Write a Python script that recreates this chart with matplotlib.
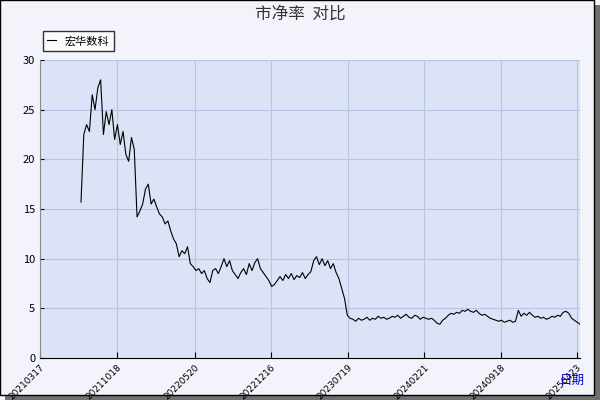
import matplotlib
matplotlib.use("Agg")
import matplotlib.pyplot as plt
import numpy as np
from matplotlib.patches import Rectangle

plt.rcParams['font.family'] = ['Noto Sans CJK SC', 'DejaVu Sans']

tick_labels = ["20210317", "20211018", "20220520", "20221216", "20230719",
               "20240221", "20240918", "20250423"]
tick_pos = [0, 77, 155, 231, 308, 384, 461, 537]   # trading-day index of each label
start_idx = 41

pb = [15.7, 22.5, 23.5, 22.8, 26.5, 25.0, 27.2, 28.0, 22.5, 24.8, 23.5, 25.0, 22.0, 23.5, 21.5, 22.8,
      20.5, 19.8, 22.2, 21.0, 14.2, 14.8, 15.5, 17.0, 17.5, 15.5, 16.0, 15.2, 14.5, 14.2, 13.5, 13.8,
      12.8, 12.0, 11.5, 10.2, 10.8, 10.5, 11.2, 9.5, 9.2, 8.8, 9.0, 8.5, 8.8, 8.0, 7.6, 8.8,
      9.0, 8.5, 9.2, 10.0, 9.2, 9.8, 8.8, 8.4, 8.0, 8.6, 9.0, 8.4, 9.5, 8.8, 9.6, 10.0,
      9.0, 8.6, 8.2, 7.8, 7.2, 7.4, 7.8, 8.2, 7.8, 8.4, 8.0, 8.5, 7.9, 8.3, 8.1, 8.6,
      8.0, 8.4, 8.7, 9.8, 10.2, 9.4, 10.0, 9.3, 9.8, 9.0, 9.5, 8.6, 8.0, 7.0, 6.0, 4.3,
      4.0, 3.9, 3.7, 4.0, 3.8, 3.9, 4.1, 3.8, 4.0, 3.9, 4.2, 4.0, 4.1, 3.9, 4.0, 4.2,
      4.1, 4.3, 4.0, 4.2, 4.4, 4.1, 4.0, 4.3, 4.2, 3.9, 4.1, 4.0, 3.9, 4.0, 3.8, 3.5,
      3.4, 3.8, 4.0, 4.3, 4.5, 4.4, 4.6, 4.5, 4.8, 4.7, 4.9, 4.7, 4.6, 4.8, 4.5, 4.3,
      4.4, 4.2, 4.0, 3.9, 3.8, 3.7, 3.8, 3.6, 3.7, 3.8, 3.6, 3.7, 4.8, 4.2, 4.5, 4.3,
      4.6, 4.3, 4.1, 4.2, 4.0, 4.1, 3.9, 4.0, 4.2, 4.1, 4.3, 4.2, 4.6, 4.7, 4.5, 4.0,
      3.8, 3.6, 3.4]

px_per_idx = 537 / (577 - 40)
x = start_idx + np.arange(len(pb)) * ((580 - 81) * px_per_idx / (len(pb) - 1))

fig = plt.figure(figsize=(6, 4), dpi=100)
fig.patch.set_facecolor('#f2f3fb')
fig.add_artist(Rectangle((5/600, 0), 595/600, 395/400, transform=fig.transFigure,
                         facecolor='#707070', edgecolor='none', zorder=-2))
fig.add_artist(Rectangle((0, 5/400), 594/600, 395/400, transform=fig.transFigure,
                         facecolor='#f2f3fb', edgecolor='black', lw=1, zorder=-1))

ax = fig.add_axes([40/600, 42/400, 540/600, 298/400])
ax.set_facecolor('#dce3f6')
ax.plot(x, pb, color='black', lw=0.8, label='宏华数科')
ax.set_xlim(0, 540)
ax.set_ylim(0, 30)
ax.set_yticks(range(0, 31, 5))
ax.set_xticks(tick_pos)
ax.set_xticklabels(tick_labels, rotation=45, ha='right', rotation_mode='anchor', fontsize=6.5,
                   family='DejaVu Sans')
ax.tick_params(axis='y', labelsize=8, length=3, direction='in')
ax.tick_params(axis='x', length=4, direction='in')
ax.grid(True, color='#b8c4e6', lw=0.8)
for s in ['top', 'right']:
    ax.spines[s].set_visible(False)
ax.spines['left'].set_color('#888888')
leg = ax.legend(loc='upper left', bbox_to_anchor=(-0.005, 1.115), fontsize=8, frameon=True,
                fancybox=False, edgecolor='black', handlelength=0.8, borderpad=0.4)
leg.get_frame().set_facecolor('white')
fig.text(0.5, 0.965, '市净率  对比', ha='center', va='center', fontsize=12, color='#333333')
fig.text(585/600, 20/400, '日期', ha='right', va='center', fontsize=9, color='#0000cc')
fig.savefig('out.png', dpi=100, facecolor=fig.get_facecolor())
